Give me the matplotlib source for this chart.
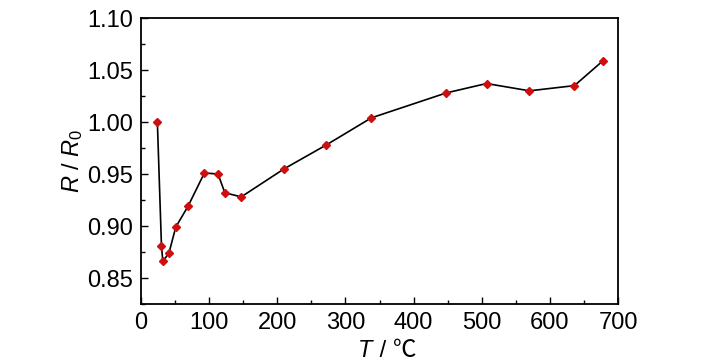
import matplotlib
matplotlib.use("Agg")
import matplotlib.pyplot as plt
from matplotlib.ticker import MultipleLocator

T = [24, 30, 32, 41, 51, 69, 93, 113, 123, 147, 210, 272, 338, 448, 507, 570, 636, 678]
R = [1.000, 0.881, 0.866, 0.874, 0.899, 0.919, 0.951, 0.950, 0.932, 0.928,
     0.955, 0.978, 1.004, 1.028, 1.037, 1.030, 1.035, 1.059]

fam = ['Liberation Sans', 'Noto Sans CJK SC', 'DejaVu Sans']
plt.rcParams['font.family'] = fam
plt.rcParams['mathtext.fontset'] = 'custom'
plt.rcParams['mathtext.it'] = 'Liberation Sans:italic'
plt.rcParams['mathtext.rm'] = 'Liberation Sans'

fig = plt.figure(figsize=(7.28, 3.64), dpi=100)
ax = fig.add_axes([0.1937, 0.1648, 0.6553, 0.7857])
ax.plot(T, R, color='black', lw=1.2, marker='D', markersize=4.0,
        markerfacecolor='#cc1010', markeredgecolor='#cc1010', zorder=3)

ax.set_xlim(0, 700)
ax.set_ylim(0.825, 1.10)
ax.xaxis.set_major_locator(MultipleLocator(100))
ax.xaxis.set_minor_locator(MultipleLocator(50))
ax.yaxis.set_minor_locator(MultipleLocator(0.025))
ax.set_yticks([0.85, 0.90, 0.95, 1.00, 1.05, 1.10])
ax.set_yticklabels(['0.85', '0.90', '0.95', '1.00', '1.05', '1.10'])
ax.tick_params(which='major', direction='in', length=5, width=1.0, labelsize=17, pad=6)
ax.tick_params(which='minor', direction='in', length=3, width=1.0)
for s in ax.spines.values():
    s.set_linewidth(1.3)

ax.set_ylabel(r'$R\ /\ R_0$', fontsize=17)
ax.yaxis.set_label_coords(-0.118, 0.5)

fig.text(372 / 728, 0.018, 'T', fontsize=17, style='italic', ha='right', va='baseline')
fig.text(373 / 728, 0.018, ' / ℃', fontsize=17, ha='left', va='baseline', family=fam)

fig.savefig('out.png', dpi=100)
